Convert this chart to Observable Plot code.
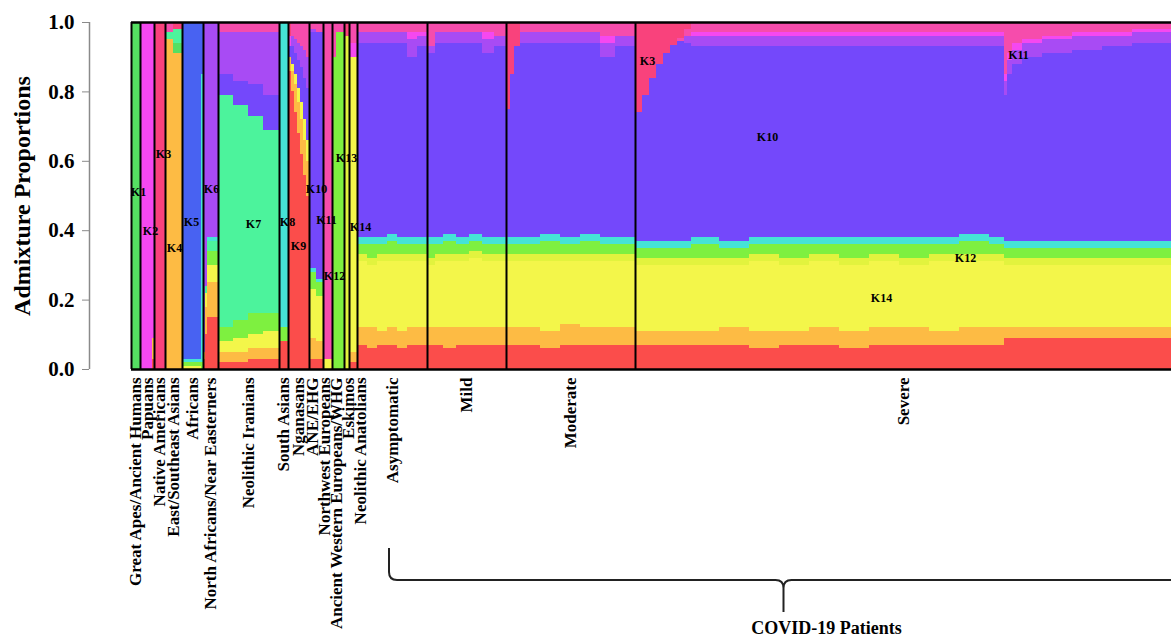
<!DOCTYPE html>
<html>
<head>
<meta charset="utf-8">
<script src="https://cdn.jsdelivr.net/npm/d3@7"></script>
<script src="https://cdn.jsdelivr.net/npm/@observablehq/plot@0.6"></script>
<style>
html, body { margin: 0; padding: 0; background: #fff; overflow: hidden; }
svg { display: block; }
</style>
</head>
<body>
<script>
// ---- components (K = 14) ----
const components = ["K1","K2","K3","K4","K5","K6","K7","K8","K9","K10","K11","K12","K13","K14"];
const componentColors = ["#55df62","#f548f0","#f9427c","#fdbb44","#4862f2","#a84bf4","#4cf39c",
                         "#45e3d6","#fb4d4b","#7448fb","#f64cac","#7ef040","#e2f33e","#f3f64a"];
// stacking order from bottom (hue order of the palette)
const stackOrder = ["K9","K4","K14","K13","K12","K1","K7","K8","K5","K10","K6","K2","K11","K3"];

// ---- populations and sample counts (individuals) ----
const populations = ["Great Apes/Ancient Humans","Papuans","Native Americans","East/Southeast Asians",
  "Africans","North Africans/Near Easterners","Neolithic Iranians","South Asians","Nganasans","ANE/EHG",
  "Northwest Europeans","Ancient Western Europeans/WHG","Eskimos","Neolithic Anatolians",
  "Asymptomatic","Mild","Moderate","Severe"];
const populationSizes = [9,14,11,17,21,15,61,9,21,14,9,12,5,8,70,79,129,536];

// ---- admixture proportions: [population index, individuals, mixture] (left to right) ----
const segments = [
  [0, 9, {K1:1}],
  [1, 12, {K2:1}],
  [1, 2, {K9:.03, K4:.06, K2:.91}],
  [2, 11, {K3:1}],
  [3, 8, {K4:.95, K7:.02, K11:.03}],
  [3, 9, {K4:.91, K1:.03, K7:.04, K3:.02}],
  [4, 19, {K14:.01, K12:.01, K8:.01, K5:.97}],
  [4, 2, {K12:.02, K8:.83, K5:.15}],
  [5, 2, {K9:.03, K4:.02, K6:.95}],
  [5, 2, {K9:.10, K4:.08, K14:.04, K7:.02, K6:.76}],
  [5, 11, {K9:.15, K4:.10, K14:.05, K12:.04, K7:.03, K8:.01, K6:.62}],
  [6, 15, {K9:.02, K4:.03, K14:.03, K12:.04, K7:.67, K10:.06, K6:.12, K11:.03}],
  [6, 15, {K9:.02, K4:.03, K14:.04, K12:.05, K7:.62, K10:.07, K6:.14, K11:.03}],
  [6, 15, {K9:.03, K4:.03, K14:.04, K12:.06, K7:.57, K10:.09, K6:.15, K11:.03}],
  [6, 16, {K9:.03, K4:.03, K14:.05, K12:.05, K7:.53, K10:.10, K6:.18, K11:.03}],
  [7, 9, {K9:.08, K12:.04, K8:.88}],
  [8, 3, {K9:.86, K4:.04, K10:.03, K2:.03, K3:.04}],
  [8, 3, {K9:.80, K4:.06, K14:.02, K10:.05, K6:.03, K11:.04}],
  [8, 3, {K9:.74, K4:.08, K14:.03, K10:.06, K6:.04, K11:.05}],
  [8, 3, {K9:.68, K4:.09, K14:.04, K10:.08, K6:.05, K11:.06}],
  [8, 3, {K9:.62, K4:.10, K14:.05, K10:.10, K6:.06, K11:.07}],
  [8, 3, {K9:.56, K4:.10, K14:.06, K10:.12, K6:.08, K11:.08}],
  [8, 3, {K9:.50, K4:.10, K14:.06, K10:.15, K6:.09, K11:.10}],
  [9, 7, {K9:.03, K4:.06, K14:.14, K12:.05, K8:.01, K10:.68, K6:.01, K11:.02}],
  [9, 7, {K9:.03, K4:.05, K14:.13, K12:.04, K8:.01, K10:.71, K11:.03}],
  [10, 9, {K14:.03, K11:.97}],
  [11, 4, {K12:.90, K11:.10}],
  [11, 8, {K12:.97, K11:.03}],
  [12, 5, {K13:.96, K3:.04}],
  [13, 8, {K9:.02, K4:.03, K14:.85, K2:.04, K11:.06}],
  // Asymptomatic
  [14, 10, {K9:.07, K4:.05, K14:.19, K13:.02, K12:.03, K8:.02, K10:.56, K6:.03, K11:.03}],
  [14, 10, {K9:.06, K4:.06, K14:.18, K13:.02, K12:.04, K8:.02, K10:.56, K6:.03, K11:.03}],
  [14, 10, {K9:.07, K4:.04, K14:.20, K13:.02, K12:.03, K8:.02, K10:.56, K6:.03, K11:.03}],
  [14, 10, {K9:.07, K4:.05, K14:.19, K13:.02, K12:.04, K8:.02, K10:.55, K6:.03, K11:.03}],
  [14, 10, {K9:.06, K4:.05, K14:.20, K13:.02, K12:.03, K8:.02, K10:.56, K6:.03, K11:.03}],
  [14, 10, {K9:.07, K4:.05, K14:.19, K13:.02, K12:.03, K8:.02, K10:.52, K6:.05, K2:.02, K11:.03}],
  [14, 10, {K9:.07, K4:.05, K14:.19, K13:.02, K12:.03, K8:.02, K10:.55, K6:.03, K2:.01, K11:.03}],
  // Mild
  [15, 8, {K9:.07, K4:.05, K14:.18, K13:.02, K12:.04, K8:.02, K10:.53, K6:.02, K11:.07}],
  [15, 8, {K9:.07, K4:.05, K14:.19, K13:.02, K12:.03, K8:.02, K10:.56, K6:.03, K11:.03}],
  [15, 13, {K9:.06, K4:.06, K14:.19, K13:.02, K12:.04, K8:.02, K10:.55, K6:.03, K11:.03}],
  [15, 13, {K9:.07, K4:.05, K14:.19, K13:.02, K12:.03, K8:.02, K10:.56, K6:.03, K11:.03}],
  [15, 13, {K9:.07, K4:.05, K14:.20, K13:.02, K12:.03, K8:.02, K10:.55, K6:.03, K11:.03}],
  [15, 12, {K9:.07, K4:.05, K14:.19, K13:.02, K12:.03, K8:.02, K10:.53, K6:.04, K2:.02, K11:.03}],
  [15, 12, {K9:.07, K4:.05, K14:.19, K13:.02, K12:.03, K8:.02, K10:.55, K6:.03, K11:.04}],
  // Moderate
  [16, 4, {K9:.07, K4:.05, K14:.19, K13:.02, K12:.03, K8:.02, K10:.37, K3:.25}],
  [16, 4, {K9:.07, K4:.05, K14:.19, K13:.02, K12:.03, K8:.02, K10:.47, K3:.15}],
  [16, 6, {K9:.07, K4:.05, K14:.19, K13:.02, K12:.03, K8:.02, K10:.55, K3:.07}],
  [16, 20, {K9:.07, K4:.05, K14:.19, K13:.02, K12:.03, K8:.02, K10:.56, K6:.03, K11:.03}],
  [16, 20, {K9:.06, K4:.05, K14:.20, K13:.02, K12:.04, K8:.02, K10:.55, K6:.03, K11:.03}],
  [16, 20, {K9:.07, K4:.06, K14:.18, K13:.02, K12:.03, K8:.02, K10:.56, K6:.03, K11:.03}],
  [16, 20, {K9:.07, K4:.05, K14:.19, K13:.02, K12:.04, K8:.02, K10:.55, K6:.03, K11:.03}],
  [16, 15, {K9:.07, K4:.05, K14:.19, K13:.02, K12:.03, K8:.02, K10:.52, K6:.04, K2:.02, K11:.04}],
  [16, 20, {K9:.07, K4:.05, K14:.19, K13:.02, K12:.03, K8:.02, K10:.55, K6:.03, K11:.04}],
  // Severe
  [17, 7, {K9:.07, K4:.04, K14:.19, K13:.02, K12:.03, K8:.02, K10:.37, K3:.26}],
  [17, 7, {K9:.07, K4:.04, K14:.19, K13:.02, K12:.03, K8:.02, K10:.42, K3:.21}],
  [17, 7, {K9:.07, K4:.04, K14:.19, K13:.02, K12:.03, K8:.02, K10:.47, K3:.16}],
  [17, 7, {K9:.07, K4:.04, K14:.19, K13:.02, K12:.03, K8:.02, K10:.51, K3:.12}],
  [17, 7, {K9:.07, K4:.04, K14:.19, K13:.02, K12:.03, K8:.02, K10:.54, K3:.09}],
  [17, 7, {K9:.07, K4:.04, K14:.19, K13:.02, K12:.03, K8:.02, K10:.565, K3:.065}],
  [17, 7, {K9:.07, K4:.04, K14:.19, K13:.02, K12:.03, K8:.02, K10:.575, K11:.01, K3:.045}],
  [17, 7, {K9:.07, K4:.04, K14:.19, K13:.02, K12:.03, K8:.02, K10:.57, K6:.02, K11:.02, K3:.02}],
  [17, 28, {K9:.07, K4:.04, K14:.19, K13:.02, K12:.04, K8:.02, K10:.55, K6:.03, K2:.01, K11:.03}],
  [17, 30, {K9:.07, K4:.05, K14:.18, K13:.02, K12:.03, K8:.02, K10:.56, K6:.03, K2:.01, K11:.03}],
  [17, 30, {K9:.06, K4:.05, K14:.20, K13:.02, K12:.03, K8:.02, K10:.55, K6:.03, K2:.01, K11:.03}],
  [17, 30, {K9:.07, K4:.04, K14:.19, K13:.02, K12:.04, K8:.02, K10:.55, K6:.03, K2:.01, K11:.03}],
  [17, 30, {K9:.07, K4:.05, K14:.19, K13:.02, K12:.03, K8:.02, K10:.55, K6:.03, K2:.01, K11:.03}],
  [17, 30, {K9:.06, K4:.05, K14:.19, K13:.02, K12:.04, K8:.02, K10:.55, K6:.03, K2:.01, K11:.03}],
  [17, 30, {K9:.07, K4:.05, K14:.19, K13:.02, K12:.03, K8:.02, K10:.55, K6:.03, K2:.01, K11:.03}],
  [17, 30, {K9:.07, K4:.05, K14:.18, K13:.02, K12:.04, K8:.02, K10:.55, K6:.03, K2:.01, K11:.03}],
  [17, 30, {K9:.07, K4:.04, K14:.20, K13:.02, K12:.03, K8:.02, K10:.55, K6:.03, K2:.01, K11:.03}],
  [17, 30, {K9:.07, K4:.05, K14:.19, K13:.02, K12:.04, K8:.02, K10:.54, K6:.03, K2:.01, K11:.03}],
  [17, 15, {K9:.07, K4:.05, K14:.19, K13:.02, K12:.03, K8:.02, K10:.55, K6:.03, K2:.01, K11:.03}],
  [17, 3, {K9:.09, K4:.03, K14:.18, K13:.02, K12:.03, K8:.02, K10:.42, K6:.04, K2:.02, K11:.15}],
  [17, 5, {K9:.09, K4:.03, K14:.18, K13:.02, K12:.03, K8:.02, K10:.48, K6:.04, K2:.02, K11:.09}],
  [17, 10, {K9:.09, K4:.03, K14:.18, K13:.02, K12:.03, K8:.02, K10:.51, K6:.04, K2:.02, K11:.06}],
  [17, 20, {K9:.09, K4:.03, K14:.18, K13:.02, K12:.03, K8:.02, K10:.53, K6:.04, K2:.01, K11:.05}],
  [17, 30, {K9:.09, K4:.03, K14:.18, K13:.02, K12:.03, K8:.02, K10:.54, K6:.04, K2:.01, K11:.04}],
  [17, 30, {K9:.09, K4:.03, K14:.18, K13:.02, K12:.03, K8:.02, K10:.55, K6:.04, K2:.01, K11:.03}],
  [17, 30, {K9:.09, K4:.03, K14:.18, K13:.02, K12:.03, K8:.02, K10:.56, K6:.03, K2:.01, K11:.03}],
  [17, 39, {K9:.09, K4:.03, K14:.18, K13:.02, K12:.03, K8:.02, K10:.57, K6:.03, K2:.01, K11:.02}]
];

// ---- component labels written on the plot: [label, individual index, proportion] ----
const componentLabels = [
  ["K1",7,.51],["K2",19,.40],["K3",32,.62],["K4",43,.35],["K5",60,.425],["K6",80,.52],
  ["K7",122,.42],["K8",156,.425],["K9",167,.355],["K10",185,.52],["K11",195,.43],
  ["K12",203,.27],["K13",215,.61],["K14",229,.41],
  ["K3",516,.89],["K10",636,.67],["K14",750,.205],["K12",834,.32],["K11",887,.905]
];
const yTicks = [0, 0.2, 0.4, 0.6, 0.8, 1.0];
const covidGroup = {label: "COVID-19 Patients", braceFrom: 258, braceTo: 1047, labelAt: 695};

// ---- build table ----
const rows = [];
let cursor = 0;
for (const [p, w, mix] of segments) {
  for (const k of components) if (mix[k]) rows.push({x1: cursor, x2: cursor + w, k, value: mix[k], pop: populations[p]});
  cursor += w;
}
const starts = [0];
populationSizes.forEach((s, i) => starts.push(starts[i] + s));
const total = starts[starts.length - 1];
const mids = populations.map((_, i) => (starts[i] + starts[i + 1]) / 2);

// spread overlapping rotated labels (cluster-centering)
function spread(pos, gap) {
  let clusters = pos.map((p, i) => ({m: [i], c: p}));
  let changed = true;
  while (changed) {
    changed = false;
    for (let i = 0; i < clusters.length - 1; i++) {
      const a = clusters[i], b = clusters[i + 1];
      const aEnd = a.c + (a.m.length - 1) * gap / 2, bStart = b.c - (b.m.length - 1) * gap / 2;
      if (bStart - aEnd < gap) {
        const m = a.m.concat(b.m);
        clusters.splice(i, 2, {m, c: d3.mean(m, j => pos[j])});
        changed = true; break;
      }
    }
  }
  const out = [];
  for (const c of clusters) c.m.forEach((j, r) => out[j] = c.c + (r - (c.m.length - 1) / 2) * gap);
  return out;
}
const labelX = spread(mids, 12);
const popLabels = populations.map((name, i) => ({name, x: labelX[i]}));

const serif = "'Liberation Serif', 'Times New Roman', serif";

const chart = Plot.plot({
  width: 1171, height: 637,
  marginLeft: 131, marginRight: 0, marginTop: 22, marginBottom: 268,
  x: {domain: [0, total], axis: null},
  y: {domain: [0, 1], axis: null},
  color: {domain: components, range: componentColors},
  style: {fontFamily: serif, background: "white", color: "black"},
  marks: [
    Plot.rectY(rows, Plot.stackY({x1: "x1", x2: "x2", y: "value", fill: "k", order: stackOrder, offset: "normalize", shapeRendering: "crispEdges"})),
    Plot.ruleX(starts.slice(0, -1), {stroke: "black", strokeWidth: 2}),
    Plot.ruleY([0, 1], {stroke: "black", strokeWidth: 2.5}),
    Plot.text(componentLabels, {x: d => d[1], y: d => d[2], text: d => d[0], fontSize: 12, fontWeight: "bold", fill: "black"}),
    Plot.ruleX([0], {y1: 0, y2: 1, dx: -42, stroke: "#8a8a8a", strokeWidth: 1.5}),
    Plot.axisY({ticks: yTicks, anchor: "left", dx: -42, tickSize: 7, tickFormat: () => "", color: "#8a8a8a", label: null}),
    Plot.axisY({ticks: yTicks, anchor: "left", dx: -42, tickSize: 0, tickPadding: 15, tickFormat: d3.format(".1f"), fontSize: 21, fontWeight: "bold", color: "black", label: null}),
    Plot.text(["Admixture Proportions"], {frameAnchor: "left", y: 0.5, rotate: -90, dx: -109, textAnchor: "middle", lineAnchor: "middle", fontSize: 24, fontWeight: "bold", fill: "black"}),
    Plot.text(popLabels, {x: "x", y: 0, text: "name", rotate: -90, textAnchor: "end", lineAnchor: "middle", dy: 8, fontSize: 17, fontWeight: "bold", fill: "black"}),
    Plot.text([covidGroup], {x: "labelAt", y: 0, text: "label", dy: 259, fontSize: 18, fontWeight: "bold", fill: "black"})
  ]
});

// curly brace under the COVID-19 patient groups
const xScale = chart.scale("x");
const yBase = chart.scale("y").apply(0);
const bx0 = xScale.apply(covidGroup.braceFrom), bx1 = xScale.apply(covidGroup.braceTo), bxt = (bx0 + bx1) / 2;
const bTop = yBase + 179, bMid = yBase + 211, bTip = yBase + 243, br = 8;
const bracePath = `M${bx0},${bTop}V${bMid - br}Q${bx0},${bMid} ${bx0 + br},${bMid}H${bxt - br}Q${bxt},${bMid} ${bxt},${bMid + br}V${bTip}` +
             `M${bxt},${bMid + br}Q${bxt},${bMid} ${bxt + br},${bMid}H${bx1 - br}Q${bx1},${bMid} ${bx1},${bMid - br}V${bTop}`;
d3.select(chart).append("path").attr("d", bracePath).attr("fill", "none").attr("stroke", "#222").attr("stroke-width", 2);

document.body.appendChild(chart);
</script>
</body>
</html>
